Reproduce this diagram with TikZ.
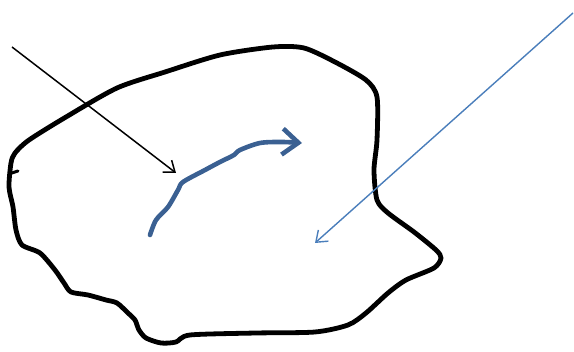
\documentclass[tikz,border=0pt]{standalone}
\usetikzlibrary{arrows.meta}
\definecolor{curveblue}{RGB}{58,96,146}
\definecolor{lineblue}{RGB}{74,126,187}
\tikzset{
  blob/.style={line width=4.8pt, black, line join=round, line cap=round},
  flowcurve/.style={line width=4.6pt, curveblue, line cap=round, line join=round,
    -{Straight Barb[length=16pt,width=26pt,line width=4.6pt]}},
  pointer/.style={line width=1.5pt, black, -{Straight Barb[length=10pt,width=15pt]}},
  bluepointer/.style={line width=1.4pt, lineblue, -{Straight Barb[length=10pt,width=15pt]}}
}
\begin{document}
\begin{tikzpicture}[x=1pt,y=-1pt]
\useasboundingbox (0,0) rectangle (574,352);
% outline of the body
\draw[blob] plot[smooth cycle, tension=0.45] coordinates {
 (117,88) (165,72) (220,55) (273,47) (304,48) (335,62) (366,80) (377,97)
 (377,140) (374,170) (377,200) (388,213) (414,232) (436,250) (441,258)
 (434,268) (406,280) (388,293) (366,313) (348,325) (315,332) (256,333)
 (190,335) (176,342) (161,343) (146,338) (139,330) (135,320) (128,313)
 (117,303) (106,300) (88,295) (71,292) (64,283) (55,270) (40,253) (22,245)
 (16,230) (13,207) (9,187) (11,163) (15,153) (29,140) (66,117)};
\draw[line width=3pt, line cap=round] (12,173) -- (18,171);
% curved flow arrow
\coordinate (cs) at (150,235);
\coordinate (ce) at (302,143);
\draw[flowcurve] plot[smooth, tension=0.5] coordinates {
 (cs) (156,220) (168,207) (178,190) (183,182) (205,170) (220,162) (234,155)
 (240,150) (260,143) (282,142) (ce)};
% pointer arrows
\coordinate (ps) at (12,47);
\coordinate (pe) at (176,173);
\draw[pointer] (ps) -- (pe);
\coordinate (bs) at (573,13);
\coordinate (be) at (315,243);
\draw[bluepointer] (bs) -- (be);
\end{tikzpicture}
\end{document}
